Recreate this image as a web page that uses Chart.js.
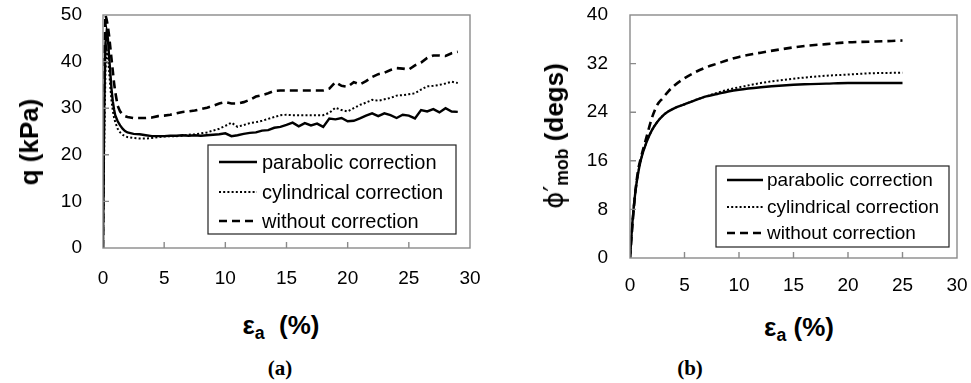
<!DOCTYPE html>
<html lang="en">
<head>
<meta charset="UTF-8" />
<title>q and friction angle vs axial strain</title>
<script src="https://cdn.jsdelivr.net/npm/chart.js"></script>
<style>
  body { margin: 0; background: #fff; width: 971px; height: 383px; position: relative; overflow: hidden;
         font-family: "Liberation Sans", Arial, sans-serif; color: #000; }
  canvas { position: absolute; top: 0; }
  #chartA { left: 0; }
  #chartB { left: 485px; }
  .lbl { position: absolute; transform: translate(-50%, -50%); white-space: nowrap; font-weight: bold; line-height: 1; }
  .xt { font-size: 26px; }
  .yt { font-size: 26px; transform: translate(-50%, -50%) rotate(-90deg); }
  .cap { font-family: "Liberation Serif", "Times New Roman", serif; font-size: 21px; }
  sub { font-size: 68%; line-height: 0; vertical-align: -0.3em; }
  .phi { font-weight: normal; font-family: "DejaVu Sans", sans-serif; }
</style>
</head>
<body>
<canvas id="chartA" width="485" height="300"></canvas>
<canvas id="chartB" width="486" height="300"></canvas>

<div class="lbl yt" style="left:29px; top:142px;">q (kPa)</div>
<div class="lbl xt" style="left:281px; top:325px;">ε<sub>a</sub>&nbsp; (%)</div>
<div class="lbl cap" style="left:280px; top:368px;">(a)</div>

<div class="lbl yt" style="left:554px; top:136px;"><span class="phi">ϕ′</span><sub>mob</sub> (degs)</div>
<div class="lbl xt" style="left:799px; top:327px;">ε<sub>a</sub> (%)</div>
<div class="lbl cap" style="left:690px; top:368px;">(b)</div>

<script>
// ---------- data (a): deviator stress q vs axial strain ----------
const strainA = [0, 0.1, 0.2, 0.3, 0.4, 0.5, 0.6, 0.7, 0.8, 0.9, 1.0, 1.2, 1.4, 1.6, 1.8, 2.0, 2.5, 3.0, 3.5, 4.0,
  4.5, 5, 5.5, 6, 6.5, 7, 7.5, 8, 8.5, 9, 9.5, 10, 10.5, 11, 11.5, 12, 12.5, 13, 13.5, 14, 14.5, 15,
  15.5, 16, 16.5, 17, 17.5, 18, 18.5, 19, 19.5, 20, 20.5, 21, 21.5, 22, 22.5, 23, 23.5, 24, 24.5, 25,
  25.5, 26, 26.5, 27, 27.5, 28, 28.5, 29];
const parabolicA = [0, 30, 44, 46.5, 45, 41, 37.5, 34, 31.5, 29.8, 28.5, 27.2, 26.3, 25.6, 25.1, 24.8, 24.5, 24.4, 24.2, 24,
  24, 24, 24.1, 24.1, 24.2, 24.1, 24.2, 24.1, 24.2, 24.3, 24.4, 24.6, 24, 24.2, 24.5, 24.7, 24.8, 25.2, 25.3, 25.8, 26, 26.4,
  26.9, 26.1, 26.8, 26.3, 26.7, 26, 27.8, 27.6, 27.9, 27.2, 27.3, 27.8, 28.4, 28.9, 28.3, 28.9, 28.5, 27.9, 28.6, 28.4,
  27.8, 29.6, 29.3, 29.8, 29.1, 30, 29.3, 29.2];
const cylindricalA = [0, 22, 38, 42.5, 41, 38, 34.5, 31.5, 29.5, 28, 27, 25.6, 24.8, 24.3, 24, 23.8, 23.6, 23.5, 23.5, 23.6,
  23.8, 23.9, 24, 24, 24.1, 24.3, 24.4, 24.6, 24.8, 25.2, 25.6, 26.2, 26.9, 26, 26.4, 26.8, 27, 27.3, 27.7, 28.1, 28.5, 28.6,
  28.5, 28.5, 28.5, 28.5, 28.5, 28.5, 29, 30.1, 29.6, 29.3, 30, 30.7, 31.2, 31.8, 31.6, 31.9, 32.2, 32.7, 32.8, 33,
  33.2, 34, 34.7, 34.8, 35, 35.3, 35.7, 35.4];
const withoutA = [0, 40, 50, 49, 47.5, 45.5, 43, 40.5, 38, 35.5, 33.5, 30.5, 29.3, 28.7, 28.3, 28.1, 27.9, 27.9, 27.9, 28,
  28.3, 28.4, 28.6, 28.9, 29.2, 29.3, 29.5, 29.8, 30.1, 30.5, 31, 31.3, 31, 31, 31.3, 31.8, 32.5, 32.8, 33.2, 33.7, 33.8, 33.8,
  33.8, 33.8, 33.8, 33.8, 33.8, 33.8, 34.2, 35.6, 34.8, 34.6, 35.6, 35.1, 35.8, 36.7, 37.3, 37.6, 38.2, 38.6, 38.5, 38.3,
  39.2, 39.8, 40.8, 41.3, 41.3, 41.2, 41.8, 42.1];

// ---------- data (b): mobilised friction angle vs axial strain ----------
const strainB = [0, 0.25, 0.5, 0.75, 1, 1.5, 2, 2.5, 3, 3.5, 4, 5, 6, 7, 8, 9, 10, 12, 14, 16, 18, 20, 22, 25];
const parabolicB = [0, 6.5, 11, 14, 16.2, 19, 21, 22.4, 23.4, 24.1, 24.6, 25.3, 26, 26.6, 27, 27.4, 27.7, 28.1, 28.4, 28.6, 28.7, 28.8, 28.8, 28.8];
const cylindricalB = [0, 6.5, 11, 14, 16.2, 19, 21, 22.4, 23.4, 24.1, 24.6, 25.3, 26, 26.6, 27.2, 27.7, 28.1, 28.8, 29.3, 29.7, 30, 30.2, 30.4, 30.5];
const withoutB = [0, 6, 11, 14.5, 16.5, 19.8, 23, 25.2, 26.3, 27.4, 28.3, 29.6, 30.6, 31.4, 32, 32.6, 33.1, 33.8, 34.4, 34.9, 35.2, 35.5, 35.6, 35.8];

const seriesLabels = ['parabolic correction', 'cylindrical correction', 'without correction'];
const qTicks = [0, 10, 20, 30, 40, 50];
const phiTicks = [0, 8, 16, 24, 32, 40];
const strainTicks = [0, 5, 10, 15, 20, 25, 30];

const FONT = '"Liberation Sans", Arial, sans-serif';
const FRAME = '#8a8a8a';

function pts(xs, ys) {
    return xs.map((x, i) => ({ x: x, y: ys[i] }));
}

// frame, inward tick marks and boxed legend drawn over the plot
const framePlugin = {
    id: 'framePlugin',
    afterDatasetsDraw(chart, args, opts) {
        const { ctx, chartArea: a, scales } = chart;
        ctx.save();
        ctx.strokeStyle = FRAME;
        ctx.lineWidth = 1.4;
        ctx.strokeRect(a.left, a.top, a.right - a.left, a.bottom - a.top);
        ctx.beginPath();
        opts.xTicks.slice(1, -1).forEach(v => {
            const px = scales.x.getPixelForValue(v);
            ctx.moveTo(px, a.bottom);
            ctx.lineTo(px, a.bottom - 6);
        });
        opts.yTicks.slice(1, -1).forEach(v => {
            const py = scales.y.getPixelForValue(v);
            ctx.moveTo(a.left, py);
            ctx.lineTo(a.left + 6, py);
        });
        ctx.stroke();

        // legend
        const L = opts.legend;
        ctx.fillStyle = '#fff';
        ctx.fillRect(L.x, L.y, L.w, L.h);
        ctx.strokeStyle = '#222';
        ctx.lineWidth = 1.2;
        ctx.strokeRect(L.x, L.y, L.w, L.h);
        ctx.font = L.font + 'px ' + FONT;
        ctx.textBaseline = 'middle';
        chart.data.datasets.forEach((ds, i) => {
            const y = L.rows[i];
            ctx.beginPath();
            ctx.strokeStyle = ds.borderColor;
            ctx.lineWidth = ds.borderWidth;
            ctx.setLineDash(ds.borderDash || []);
            ctx.moveTo(L.lineX0, y);
            ctx.lineTo(L.lineX1, y);
            ctx.stroke();
            ctx.setLineDash([]);
            ctx.fillStyle = '#000';
            ctx.fillText(ds.label, L.textX, y + 1);
        });
        ctx.restore();
    }
};

function lineStyles(i) {
    if (i === 0) return { borderWidth: 2.4, borderDash: [] };
    if (i === 1) return { borderWidth: 2, borderDash: [2, 2.2] };
    return { borderWidth: 2.6, borderDash: [8, 5] };
}

// label offset is given through an invisible tick mark, so it does not widen the layout padding
function hiddenTicks(len) {
    return { display: true, drawOnChartArea: false, drawTicks: true, tickLength: len, tickColor: 'rgba(0,0,0,0)' };
}

function makeChart(id, sets, cfg) {
    return new Chart(document.getElementById(id), {
        type: 'line',
        data: {
            datasets: sets.map((d, i) => Object.assign({
                label: seriesLabels[i],
                data: d,
                borderColor: '#000',
                pointRadius: 0,
                fill: false,
                tension: cfg.tension,
                cubicInterpolationMode: cfg.tension ? 'monotone' : 'default',
                borderCapStyle: 'butt'
            }, lineStyles(i)))
        },
        options: {
            responsive: false,
            animation: false,
            layout: { padding: cfg.padding },
            plugins: {
                legend: { display: false },
                tooltip: { enabled: false },
                framePlugin: { xTicks: strainTicks, yTicks: cfg.yTicks, legend: cfg.legend }
            },
            scales: {
                x: {
                    type: 'linear', min: 0, max: 30,
                    afterBuildTicks: s => { s.ticks = strainTicks.map(v => ({ value: v })); },
                    afterFit: s => { s.height = cfg.xHeight; },
                    grid: hiddenTicks(cfg.xPad),
                    border: { display: false },
                    ticks: { color: '#000', font: { size: 19, family: FONT }, padding: 0, maxRotation: 0 }
                },
                y: {
                    min: 0, max: cfg.yTicks[cfg.yTicks.length - 1],
                    afterBuildTicks: s => { s.ticks = cfg.yTicks.map(v => ({ value: v })); },
                    afterFit: s => { s.width = cfg.yWidth; },
                    grid: hiddenTicks(cfg.yPad),
                    border: { display: false },
                    ticks: { color: '#000', font: { size: 19, family: FONT }, padding: 0 }
                }
            }
        },
        plugins: [framePlugin]
    });
}

makeChart('chartA', [pts(strainA, parabolicA), pts(strainA, cylindricalA), pts(strainA, withoutA)], {
    tension: 0,
    padding: { top: 15, right: 15, left: 0, bottom: 0 },
    xHeight: 52, yWidth: 103, xPad: 19, yPad: 21,
    yTicks: qTicks,
    legend: { x: 208, y: 145, w: 248, h: 89, rows: [162, 192, 221], lineX0: 219, lineX1: 257, textX: 262, font: 20 }
});

makeChart('chartB', [pts(strainB, parabolicB), pts(strainB, cylindricalB), pts(strainB, withoutB)], {
    tension: 0.4,
    padding: { top: 15, right: 14, left: 0, bottom: 0 },
    xHeight: 42, yWidth: 145, xPad: 16, yPad: 22,
    yTicks: phiTicks,
    legend: { x: 231, y: 166, w: 233, h: 81, rows: [180, 207, 233], lineX0: 242, lineX1: 278, textX: 282, font: 19 }
});
</script>
</body>
</html>
